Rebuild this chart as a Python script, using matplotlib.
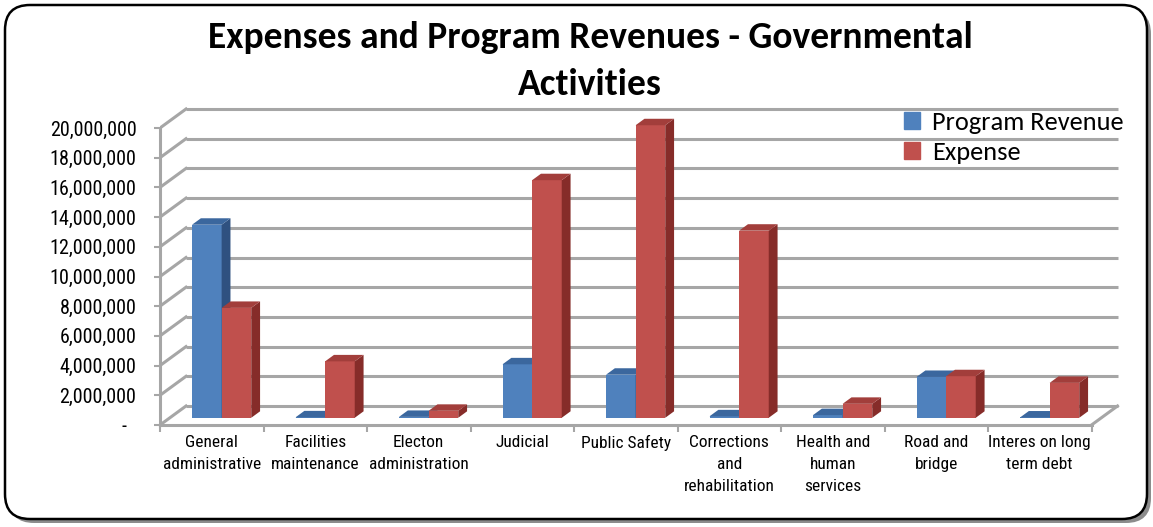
# Expenses vs program revenues, drawn as Excel-style 3D clustered columns
import numpy as np
import matplotlib.pyplot as plt
from matplotlib import font_manager
from matplotlib.patches import Polygon, FancyBboxPatch, Patch
from matplotlib.ticker import FuncFormatter

categories = ["General\nadministrative", "Facilities\nmaintenance", "Electon\nadministration",
              "Judicial", "Public Safety", "Corrections\nand\nrehabilitation",
              "Health and\nhuman\nservices", "Road and\nbridge", "Interes on long\nterm debt"]
program_revenue = [13000000, 30000, 60000, 3600000, 2900000, 100000, 180000, 2750000, 20000]
expense = [7400000, 3800000, 470000, 16000000, 19700000, 12600000, 940000, 2800000, 2350000]
series_names = ["Program Revenue", "Expense"]
y_ticks = np.arange(0, 20000001, 2000000)

# front, side, top colours for each series
front_c = ["#4F81BD", "#C0504D"]
side_c = ["#2F5180", "#862C29"]
top_c = ["#3B679E", "#A23E3B"]
grid_c = "#a6a6a6"

installed = {f.name for f in font_manager.fontManager.ttflist}


def pick(*names):
    return next((n for n in names if n in installed), "DejaVu Sans")


narrow = pick("Liberation Sans Narrow", "Arial Narrow", "Roboto Condensed", "PT Sans Narrow", "Archivo Narrow")
calib = pick("Carlito", "Calibri", "Lato")

W, H = 1153, 527
fig = plt.figure(figsize=(W / 100, H / 100), dpi=100)
fig.patch.set_facecolor("white")

# rounded frame with a drop shadow
fig.patches.append(FancyBboxPatch((0.09, 0.04), 11.42, 5.14, boxstyle="round,pad=0,rounding_size=0.25",
                                  transform=fig.dpi_scale_trans, fc="#8c8c8c", ec="none", zorder=-3))
fig.patches.append(FancyBboxPatch((0.05, 0.08), 11.42, 5.14, boxstyle="round,pad=0,rounding_size=0.25",
                                  transform=fig.dpi_scale_trans, fc="white", ec="black", lw=1.8, zorder=-2))

# plot area: category step and value scale of the front plane, in pixels
x0_px, y0_px, xr_px, ytop_px = 160, 425, 1125, 100
cat_px = 103.5
val_px = 297 / 20e6
ax = fig.add_axes([x0_px / W, (H - y0_px) / H, (xr_px - x0_px) / W, (y0_px - ytop_px) / H])
ax.set_xlim(-0.5, -0.5 + (xr_px - x0_px) / cat_px)
ax.set_ylim(0, (y0_px - ytop_px) / val_px)
ax.patch.set_visible(False)

# depth of the box (offset of the back wall) in data units
DX = 26 / cat_px
DY = 19 / val_px

n = len(categories)
xl, xr = -0.5, n - 0.5

# back wall gridlines, side wall diagonals, floor edge
for v in y_ticks:
    ax.plot([xl + DX, xr + DX], [v + DY, v + DY], color=grid_c, lw=2.2, zorder=1, solid_capstyle="butt")
    ax.plot([xl, xl + DX], [v, v + DY], color=grid_c, lw=2.2, zorder=1)
ax.plot([xr, xr + DX], [0, DY], color=grid_c, lw=2.2, zorder=1)

# columns: front face via bar(), side and top faces as polygons
w = 0.286
d_front, d_back = 0.38, 0.72
for s, vals in enumerate([program_revenue, expense]):
    xs = np.arange(n) - w + s * w
    bars = ax.bar(xs + d_front * DX, vals, width=w, bottom=d_front * DY, align="edge",
                  color=front_c[s], edgecolor="none")
    for i, (b, v) in enumerate(zip(bars, vals)):
        z = 2 + 4 * i + 2 * s
        b.set_zorder(z)
        x0, x1 = xs[i], xs[i] + w
        side = [(x1 + d_front * DX, d_front * DY), (x1 + d_back * DX, d_back * DY),
                (x1 + d_back * DX, v + d_back * DY), (x1 + d_front * DX, v + d_front * DY)]
        top = [(x0 + d_front * DX, v + d_front * DY), (x1 + d_front * DX, v + d_front * DY),
               (x1 + d_back * DX, v + d_back * DY), (x0 + d_back * DX, v + d_back * DY)]
        ax.add_patch(Polygon(side, closed=True, fc=side_c[s], ec="none", zorder=z + 1))
        ax.add_patch(Polygon(top, closed=True, fc=top_c[s], ec="none", zorder=z + 1))

# axes
for sp in ["top", "right"]:
    ax.spines[sp].set_visible(False)
for sp in ["left", "bottom"]:
    ax.spines[sp].set_color(grid_c)
    ax.spines[sp].set_linewidth(2.2)
ax.spines["left"].set_bounds(0, 20e6)
ax.spines["bottom"].set_bounds(xl, xr)

ax.set_yticks(y_ticks)
ax.yaxis.set_major_formatter(FuncFormatter(lambda v, p: "-  " if v == 0 else f"{v:,.0f}"))
ax.tick_params(axis="y", length=4, width=1.5, color=grid_c, pad=13, labelsize=14.5)
for t in ax.get_yticklabels():
    t.set_family(narrow)

ax.set_xticks(np.arange(n))
ax.set_xticklabels(categories, family=narrow, fontsize=12.5, linespacing=1.58)
ax.tick_params(axis="x", length=0, pad=7)
ax.set_xticks(np.arange(n + 1) - 0.5, minor=True)
ax.tick_params(axis="x", which="minor", length=5, width=1.5, color=grid_c)

fig.text(590 / W, 1 - 61 / H, "Expenses and Program Revenues - Governmental\nActivities",
         ha="center", va="center", fontsize=27, fontweight="bold", family=calib, linespacing=1.5)

handles = [Patch(color=c) for c in front_c]
fig.legend(handles, series_names, loc="upper left", bbox_to_anchor=(904 / W, 1 - 111 / H),
           frameon=False, prop={"family": calib, "size": 19}, handlelength=0.6, handleheight=0.6,
           handletextpad=0.45, labelspacing=0.25, borderaxespad=0, borderpad=0)

fig.savefig("out.png", dpi=100, facecolor="white")
